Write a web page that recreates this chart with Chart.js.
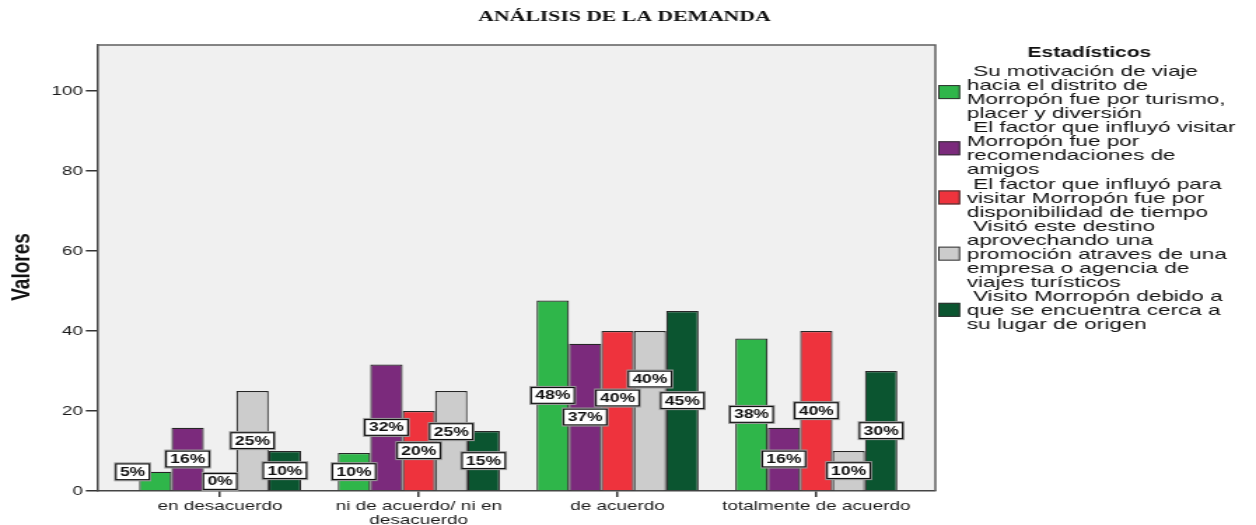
<!DOCTYPE html>
<html>
<head>
<meta charset="utf-8">
<script src="https://cdn.jsdelivr.net/npm/chart.js@4"></script>
<style>
  html, body { margin: 0; padding: 0; background: #fff; overflow: hidden; }
  #chart { display: block; }
</style>
</head>
<body>
<!-- the reference is a horizontally stretched SPSS picture, so the canvas is drawn narrow and stretched -->
<canvas id="chart" width="897" height="525" style="width:1256px;height:525px"></canvas>
<script>
// categories on the x axis ("\n" marks a line break in the tick label)
var categories = ['en desacuerdo', 'ni de acuerdo/ ni en\ndesacuerdo', 'de acuerdo', 'totalmente de acuerdo'];

// series values (percent), one value per category
var turismo = [4.8, 9.5, 47.6, 38.1];
var recomendaciones = [15.8, 31.6, 36.8, 15.8];
var tiempo = [0, 20, 40, 40];
var promocion = [25, 25, 40, 10];
var cercania = [10, 15, 45, 30];

// legend texts, wrapped as in the picture
var turismoLabel = [' Su motivación de viaje', 'hacia el distrito de', 'Morropón fue por turismo,', 'placer y diversión'];
var recomendacionesLabel = [' El factor que influyó visitar', 'Morropón fue por', 'recomendaciones de', 'amigos'];
var tiempoLabel = [' El factor que influyó para', 'visitar Morropón fue por', 'disponibilidad de tiempo'];
var promocionLabel = [' Visitó este destino', 'aprovechando una', 'promoción atraves de una', 'empresa o agencia de', 'viajes turísticos'];
var cercaniaLabel = [' Visito Morropón debido a', 'que se encuentra cerca a', 'su lugar de origen'];

var yTicks = [0, 20, 40, 60, 80, 100];
var chartTitle = 'ANÁLISIS DE LA DEMANDA';
var yTitle = 'Valores';
var legendTitle = 'Estadísticos';

var SANS = '"Liberation Sans", Arial, sans-serif';

function makeSet(lines, values, color) {
    return {
        label: lines.join(' ').trim(),
        legendLines: lines,
        data: values.map(function (v, i) { return { x: i, y: v }; }),
        backgroundColor: color,
        borderColor: '#262626',
        borderWidth: 1.2,
        borderSkipped: 'start',
        categoryPercentage: 0.815,
        barPercentage: 1
    };
}

// background, frame, title, axis title and legend
var decorPlugin = {
    id: 'decor',
    beforeDraw: function (chart) {
        var ctx = chart.ctx, a = chart.chartArea;
        ctx.save();
        ctx.fillStyle = '#f0f0f0';
        ctx.fillRect(a.left, a.top, a.right - a.left, a.bottom - a.top);
        ctx.restore();
    },
    afterDraw: function (chart) {
        var ctx = chart.ctx, a = chart.chartArea;
        ctx.save();
        // top and right frame
        ctx.strokeStyle = '#5e5e5e';
        ctx.lineWidth = 1.5;
        ctx.beginPath();
        ctx.moveTo(a.left, a.top);
        ctx.lineTo(a.right, a.top);
        ctx.lineTo(a.right, a.bottom);
        ctx.stroke();

        ctx.fillStyle = '#111';
        ctx.textAlign = 'center';
        ctx.textBaseline = 'middle';
        ctx.font = 'bold 15.5px "Liberation Serif", "Times New Roman", serif';
        ctx.fillText(chartTitle, 446, 17);

        ctx.save();
        ctx.translate(15.7, 267);
        ctx.rotate(-Math.PI / 2);
        ctx.font = 'bold 19px "Liberation Sans Narrow", "Arial Narrow", ' + SANS;
        ctx.fillText(yTitle, 0, 0);
        ctx.restore();

        // legend
        ctx.font = 'bold 15px ' + SANS;
        ctx.fillText(legendTitle, 778, 53);
        var lineH = 14.05, y0 = 72, k = 0, sx = 1.07;
        chart.data.datasets.forEach(function (ds) {
            var n = ds.legendLines.length;
            var mid = y0 + lineH * (k + (n - 1) / 2) - 1;
            ctx.fillStyle = ds.backgroundColor;
            ctx.fillRect(670, mid - 7, 15.7, 14);
            ctx.strokeStyle = '#333';
            ctx.lineWidth = 1;
            ctx.strokeRect(670.5, mid - 6.5, 14.7, 13);
            ctx.save();
            ctx.scale(sx, 1);
            ctx.font = '15px ' + SANS;
            ctx.textAlign = 'left';
            ctx.fillStyle = '#111';
            ds.legendLines.forEach(function (t) {
                ctx.fillText(t, 690.5 / sx, y0 + lineH * k);
                k++;
            });
            ctx.restore();
        });
        ctx.restore();
    }
};

// percentage boxes, placed at the middle of each bar and pushed up when they collide;
// short bars get their box beside the bar top so the bar stays visible
var labelPlugin = {
    id: 'pctLabels',
    afterDatasetsDraw: function (chart) {
        var ctx = chart.ctx, a = chart.chartArea;
        var h = 17, gap = 2, placed = [];
        ctx.save();
        ctx.font = 'bold 12.5px ' + SANS;
        ctx.textAlign = 'center';
        ctx.textBaseline = 'middle';
        categories.forEach(function (c, i) {
            chart.data.datasets.forEach(function (ds, d) {
                var bar = chart.getDatasetMeta(d).data[i];
                var text = Math.round(ds.data[i].y) + '%';
                var w = ctx.measureText(text).width + 7;
                var barH = bar.base - bar.y;
                var cx = bar.x;
                var cy = (bar.y + bar.base) / 2;
                if (barH > 1 && barH < h + 4) {
                    cy = bar.y;
                    cx = bar.x - bar.width * 0.7;
                }
                cy = Math.min(cy, a.bottom - 1 - h / 2);
                var box = { l: cx - w / 2, r: cx + w / 2, t: cy - h / 2, b: cy + h / 2 };
                var hit;
                var find = function () {
                    return placed.find(function (p) {
                        return p.l < box.r && p.r > box.l && p.t < box.b + gap && p.b + gap > box.t;
                    });
                };
                while ((hit = find())) {
                    box = { l: box.l, r: box.r, t: hit.t - gap - h, b: hit.t - gap };
                }
                placed.push(box);

                ctx.fillStyle = '#9a9a9a';
                ctx.fillRect(box.l - 0.7, box.t - 1, w + 1.4, h + 2);
                ctx.fillStyle = '#fff';
                ctx.fillRect(box.l, box.t, w, h);
                ctx.strokeStyle = '#111';
                ctx.lineWidth = 1.2;
                ctx.strokeRect(box.l + 0.6, box.t + 0.6, w - 1.2, h - 1.2);
                ctx.fillStyle = '#111';
                ctx.fillText(text, (box.l + box.r) / 2, (box.t + box.b) / 2 + 0.5);
            });
        });
        ctx.restore();
    }
};

var ctx = document.getElementById('chart').getContext('2d');
var chart = new Chart(ctx, {
    type: 'bar',
    data: {
        datasets: [
            makeSet(turismoLabel, turismo, '#2fb64a'),
            makeSet(recomendacionesLabel, recomendaciones, '#7b2a7c'),
            makeSet(tiempoLabel, tiempo, '#ee333d'),
            makeSet(promocionLabel, promocion, '#cccccc'),
            makeSet(cercaniaLabel, cercania, '#0b5530')
        ]
    },
    options: {
        responsive: false,
        devicePixelRatio: 1,
        animation: false,
        layout: { padding: { left: 0, right: 229, top: 45, bottom: 0 } },
        plugins: {
            legend: { display: false },
            title: { display: false },
            tooltip: { enabled: false }
        },
        scales: {
            x: {
                type: 'linear',
                min: -0.619,
                max: 3.599,
                offset: false,
                afterBuildTicks: function (s) {
                    s.ticks = categories.map(function (c, i) { return { value: i }; });
                },
                afterFit: function (s) { s.height = 34; },
                grid: { offset: false, drawOnChartArea: false, drawTicks: true, tickLength: 6, color: '#333', lineWidth: 1.5 },
                border: { display: true, color: '#444', width: 1.5 },
                ticks: {
                    autoSkip: false,
                    maxRotation: 0,
                    padding: 3,
                    color: '#1a1a1a',
                    font: { family: SANS, size: 13.5, lineHeight: 1 },
                    callback: function (v) { return categories[Math.round(v)].split('\n'); }
                }
            },
            y: {
                min: 0,
                max: 111.5,
                afterBuildTicks: function (s) {
                    s.ticks = yTicks.map(function (v) { return { value: v }; });
                },
                afterFit: function (s) { s.width = 69.3; },
                grid: { drawOnChartArea: false, drawTicks: true, tickLength: 8, color: '#333', lineWidth: 1.5 },
                border: { display: true, color: '#444', width: 1.5 },
                ticks: {
                    padding: 2,
                    color: '#1a1a1a',
                    font: { family: SANS, size: 13.5 }
                }
            }
        }
    },
    plugins: [decorPlugin, labelPlugin]
});
</script>
</body>
</html>
